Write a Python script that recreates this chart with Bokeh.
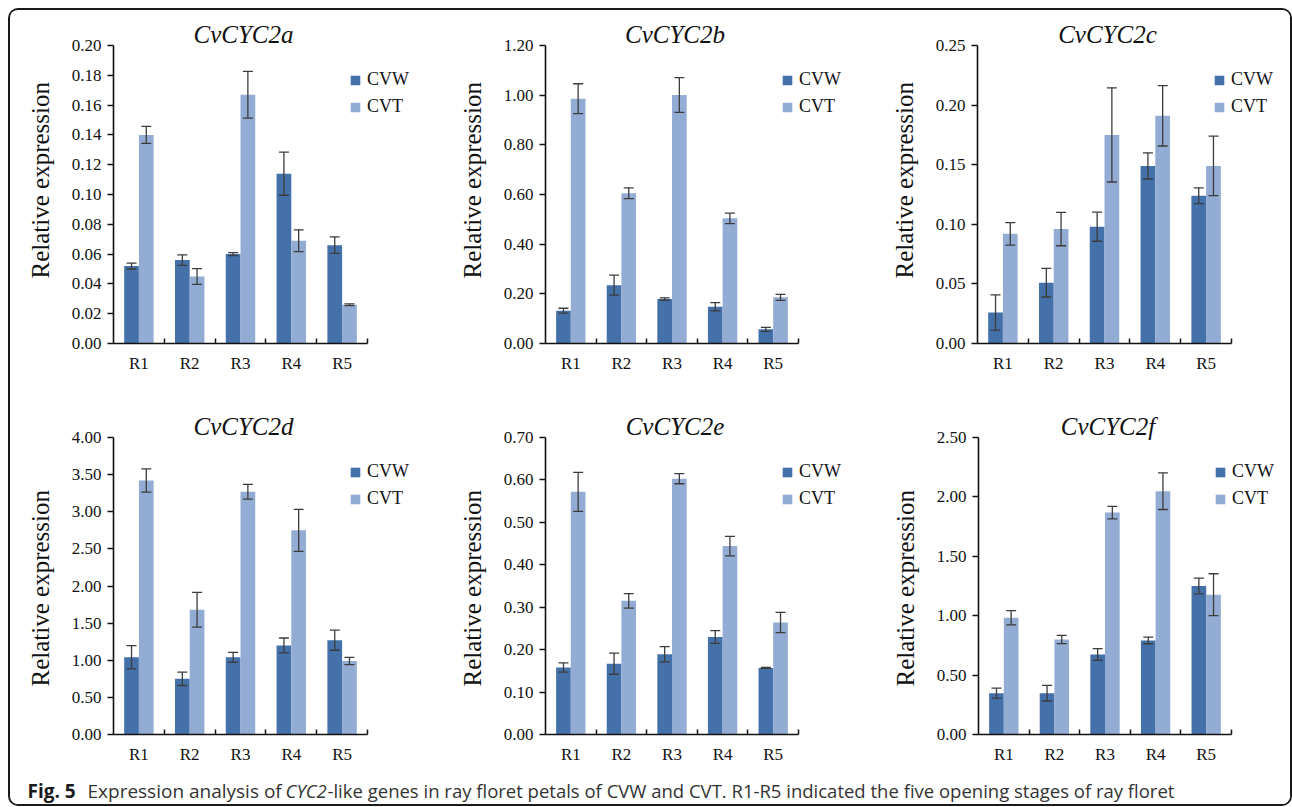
import numpy as np
from bokeh.plotting import figure
from bokeh.models import (ColumnDataSource, Whisker, TeeHead, Legend, LegendItem,
                          FixedTicker, NumeralTickFormatter, Label, Range1d, Title)
from bokeh.transform import dodge
from bokeh.layouts import column, row
from bokeh.embed import file_html
from bokeh.resources import INLINE

# ---------------- data ----------------
stages = ["R1", "R2", "R3", "R4", "R5"]
series_names = ["CVW", "CVT"]
genes = ["CvCYC2a", "CvCYC2b", "CvCYC2c", "CvCYC2d", "CvCYC2e", "CvCYC2f"]
y_title = "Relative expression"

a_cvw = [0.052, 0.056, 0.060, 0.114, 0.066]
a_cvw_err = [0.002, 0.0035, 0.001, 0.0145, 0.0055]
a_cvt = [0.140, 0.045, 0.167, 0.069, 0.026]
a_cvt_err = [0.0057, 0.0053, 0.0157, 0.0073, 0.0006]

b_cvw = [0.132, 0.235, 0.179, 0.148, 0.057]
b_cvw_err = [0.010, 0.040, 0.005, 0.017, 0.008]
b_cvt = [0.986, 0.605, 1.001, 0.504, 0.186]
b_cvt_err = [0.060, 0.022, 0.070, 0.021, 0.012]

c_cvw = [0.026, 0.051, 0.098, 0.149, 0.124]
c_cvw_err = [0.0148, 0.012, 0.0122, 0.011, 0.0066]
c_cvt = [0.092, 0.096, 0.175, 0.191, 0.149]
c_cvt_err = [0.0094, 0.014, 0.0395, 0.0253, 0.025]

d_cvw = [1.04, 0.75, 1.04, 1.20, 1.27]
d_cvw_err = [0.157, 0.090, 0.067, 0.100, 0.135]
d_cvt = [3.42, 1.68, 3.27, 2.75, 0.99]
d_cvt_err = [0.157, 0.233, 0.099, 0.283, 0.050]

e_cvw = [0.158, 0.167, 0.189, 0.230, 0.157]
e_cvw_err = [0.011, 0.025, 0.018, 0.015, 0.001]
e_cvt = [0.572, 0.315, 0.603, 0.444, 0.264]
e_cvt_err = [0.046, 0.017, 0.012, 0.023, 0.024]

f_cvw = [0.348, 0.348, 0.674, 0.792, 1.25]
f_cvw_err = [0.042, 0.066, 0.049, 0.028, 0.067]
f_cvt = [0.983, 0.800, 1.868, 2.048, 1.177]
f_cvt_err = [0.060, 0.035, 0.053, 0.154, 0.176]

y_max = [0.20, 1.20, 0.25, 4.00, 0.70, 2.50]
y_step = [0.02, 0.20, 0.05, 0.50, 0.10, 0.50]

caption_bold = "Fig. 5"
caption_1 = "Expression analysis of"
caption_italic = "CYC2"
caption_2 = "-like genes in ray floret petals of CVW and CVT. R1-R5 indicated the five opening stages of ray floret"

panel_data = [
    (a_cvw, a_cvw_err, a_cvt, a_cvt_err),
    (b_cvw, b_cvw_err, b_cvt, b_cvt_err),
    (c_cvw, c_cvw_err, c_cvt, c_cvt_err),
    (d_cvw, d_cvw_err, d_cvt, d_cvt_err),
    (e_cvw, e_cvw_err, e_cvt, e_cvt_err),
    (f_cvw, f_cvw_err, f_cvt, f_cvt_err),
]

# ---------------- style / layout ----------------
C_W = "#4571aa"
C_T = "#93acd3"
SERIF = "Liberation Serif"
AX = "#111111"

fig_widths = [426, 426, 428]
# (left border to axis, axis length in px) per column, per row
col_geom = [[(103, 254), (109, 253), (115, 254)],
            [(103, 254), (109, 253), (116, 253)]]
# (space above the value axis top, value axis length, bottom border) per row
row_geom = [(35, 298, 57), (37, 297, 44)]
ylabel_offset = [65, 48]


def make_panel(i):
    cvw, cvw_e, cvt, cvt_e = panel_data[i]
    r = i // 3
    c = i % 3
    left, axw = col_geom[r][c]
    top, fh, bottom = row_geom[r]
    fw_total = fig_widths[c] - left
    fh_total = fh + top
    ymax = y_max[i]
    n = len(stages)
    x_end = -0.5 + n * fw_total / axw
    y_end = ymax * fh_total / fh
    p = figure(frame_width=fw_total, frame_height=fh_total,
               min_border_left=left, min_border_right=0,
               min_border_top=0, min_border_bottom=bottom,
               x_range=Range1d(-0.5, x_end), y_range=Range1d(0, y_end),
               output_backend="svg", toolbar_location=None, title=None)
    p.outline_line_color = None
    p.grid.grid_line_color = None
    p.background_fill_color = "white"
    p.border_fill_color = "white"

    idx = list(range(n))
    src = ColumnDataSource(dict(
        x=idx, cvw=cvw, cvt=cvt,
        cvw_lo=[v - e for v, e in zip(cvw, cvw_e)], cvw_hi=[v + e for v, e in zip(cvw, cvw_e)],
        cvt_lo=[v - e for v, e in zip(cvt, cvt_e)], cvt_hi=[v + e for v, e in zip(cvt, cvt_e)],
    ))
    bw = 0.29
    rw = p.vbar(x=dodge("x", -bw / 2, range=p.x_range), top="cvw", width=bw, source=src,
                fill_color=C_W, line_color=None)
    rt = p.vbar(x=dodge("x", bw / 2, range=p.x_range), top="cvt", width=bw, source=src,
                fill_color=C_T, line_color=None)
    for off, lo, hi in [(-bw / 2, "cvw_lo", "cvw_hi"), (bw / 2, "cvt_lo", "cvt_hi")]:
        w = Whisker(source=src, base=dodge("x", off, range=p.x_range), lower=lo, upper=hi,
                    level="overlay", line_color="#3c3c3c", line_width=1.3,
                    upper_head=TeeHead(size=10, line_color="#3c3c3c", line_width=1.3),
                    lower_head=TeeHead(size=10, line_color="#3c3c3c", line_width=1.3))
        p.add_layout(w)

    # x axis
    xa = p.xaxis[0]
    xa.bounds = (-0.5, n - 0.5)
    xa.ticker = FixedTicker(ticks=idx, minor_ticks=[k + 0.5 for k in idx])
    xa.major_label_overrides = {k: s for k, s in zip(idx, stages)}
    xa.major_tick_line_color = None
    xa.major_tick_in = 0
    xa.major_tick_out = 0
    xa.minor_tick_line_color = AX
    xa.minor_tick_line_width = 1.5
    xa.minor_tick_in = 5
    xa.minor_tick_out = 0
    xa.axis_line_color = AX
    xa.axis_line_width = 1.6
    xa.major_label_text_font = SERIF
    xa.major_label_text_font_size = "17px"
    xa.major_label_text_color = "#111111"
    xa.major_label_standoff = 10

    # y axis
    ya = p.yaxis[0]
    ya.bounds = (0, ymax)
    ticks = [float(v) for v in np.round(np.arange(0, ymax + y_step[i] / 2, y_step[i]), 4)]
    ya.ticker = FixedTicker(ticks=ticks, minor_ticks=[])
    ya.formatter = NumeralTickFormatter(format="0.00")
    ya.major_tick_in = 0
    ya.major_tick_out = 6
    ya.major_tick_line_color = AX
    ya.major_tick_line_width = 1.3
    ya.minor_tick_line_color = None
    ya.axis_line_color = AX
    ya.axis_line_width = 1.6
    ya.major_label_text_font = SERIF
    ya.major_label_text_font_size = "17px"
    ya.major_label_text_color = "#111111"
    ya.major_label_standoff = 6

    # y axis title (side title so it can be offset along the axis)
    yt = Title(text=y_title, align="left", offset=ylabel_offset[r], standoff=29,
               text_font=SERIF, text_font_style="normal", text_font_size="25px",
               text_color="#111111")
    p.add_layout(yt, "left")

    # panel title
    t = Label(x=(n - 1) / 2, y=ymax, y_offset=11, x_offset=3, text=genes[i],
              text_font=SERIF, text_font_style="italic", text_font_size="25px",
              text_align="center", text_baseline="middle", text_color="#111111")
    p.add_layout(t)

    # legend
    leg = Legend(items=[LegendItem(label=series_names[0], renderers=[rw]),
                        LegendItem(label=series_names[1], renderers=[rt])],
                 location=(236, fh - 72), orientation="vertical",
                 glyph_width=12, glyph_height=12, label_height=21, spacing=6,
                 label_standoff=6, padding=0, margin=0,
                 border_line_color=None, background_fill_alpha=0,
                 label_text_font=SERIF, label_text_font_size="18px",
                 label_text_color="#111111")
    p.add_layout(leg, "center")
    return p


panels = [make_panel(i) for i in range(6)]

cap = figure(width=1280, height=26, x_range=Range1d(0, 1280), y_range=Range1d(0, 26),
             output_backend="svg", toolbar_location=None, title=None,
             x_axis_location=None, y_axis_location=None, min_border=0)
cap.outline_line_color = None
cap.grid.grid_line_color = None
CAP_FONT = "Open Sans"
for xpos, txt, style, col, fs in [(17, caption_bold, "bold", "#1a1a1a", "19px"),
                                  (77, caption_1, "normal", "#333333", "19px"),
                                  (275, caption_italic, "italic", "#333333", "18.5px"),
                                  (317, caption_2, "normal", "#333333", "18.5px")]:
    cap.add_layout(Label(x=xpos, y=14, x_units="screen", y_units="screen", text=txt,
                         text_font=CAP_FONT, text_font_style=style,
                         text_font_size=fs, text_baseline="middle",
                         text_align="left", text_color=col))

layout = column(row(panels[0], panels[1], panels[2], spacing=0),
                row(panels[3], panels[4], panels[5], spacing=0),
                cap, spacing=0,
                styles={"border": "2px solid #1a1a1a", "border-radius": "10px",
                        "overflow": "hidden", "margin": "8px 0 0 8px"})

open("out.html", "w").write(file_html(layout, INLINE))
